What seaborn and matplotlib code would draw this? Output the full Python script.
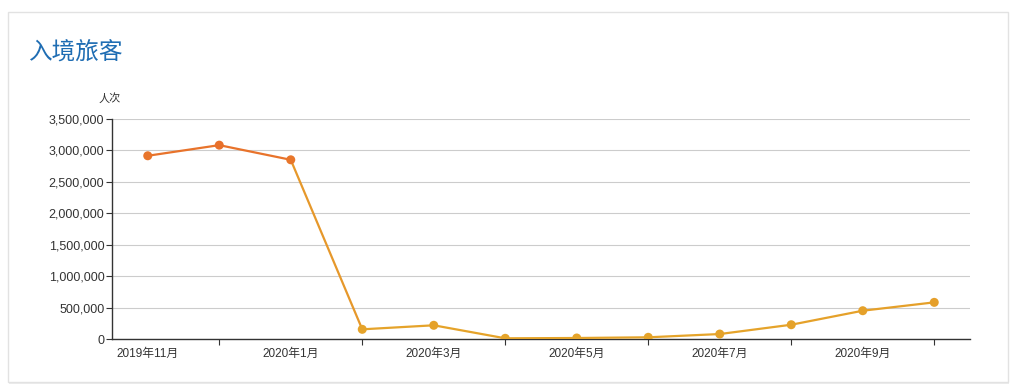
import matplotlib
matplotlib.use('Agg')
import matplotlib.pyplot as plt
import seaborn as sns
import numpy as np
import pandas as pd
from matplotlib.colors import LinearSegmentedColormap
from matplotlib.patches import FancyBboxPatch
from matplotlib.ticker import FuncFormatter, FixedLocator

# ---- data ----
months = ['2019年11月', '2019年12月', '2020年1月', '2020年2月', '2020年3月', '2020年4月',
          '2020年5月', '2020年6月', '2020年7月', '2020年8月', '2020年9月', '2020年10月']
visitors = [2915000, 3084000, 2851000, 154000, 218000, 11000,
            16000, 27000, 79000, 227000, 450000, 583000]
title_text = '入境旅客'
y_unit = '人次'
y_ticks = [0, 500000, 1000000, 1500000, 2000000, 2500000, 3000000, 3500000]

sns.set_theme(style='white')
plt.rcParams['font.family'] = ['Liberation Sans', 'Noto Sans CJK SC', 'DejaVu Sans']

W, H = 1016, 392
fig = plt.figure(figsize=(W / 100, H / 100), dpi=100)
fig.patch.set_facecolor('white')

# card background
shadow = FancyBboxPatch((9 / W, 1 - 384 / H), 1000 / W, 371 / H,
                        boxstyle='square,pad=0', transform=fig.transFigure,
                        facecolor='#ececec', edgecolor='none', zorder=-20)
card = FancyBboxPatch((8 / W, 1 - 382 / H), 1000 / W, 370 / H,
                      boxstyle='square,pad=0', transform=fig.transFigure,
                      facecolor='white', edgecolor='#e2e2e2', linewidth=1, zorder=-10)
fig.add_artist(shadow)
fig.add_artist(card)

ax = fig.add_axes([112 / W, 1 - 339 / H, 858 / W, 220 / H])
ax.set_facecolor('none')
ax.set_zorder(5)

df = pd.DataFrame({'idx': np.arange(len(months)), 'month': months, 'visitors': visitors})

cmap = LinearSegmentedColormap.from_list('vm', ['#e5a42a', '#e6982b', '#e8702b'])
vmax = 3100000

def col(v):
    return cmap(min(max(v / vmax, 0), 1))

for i in range(len(df) - 1):
    seg = df.iloc[i:i + 2]
    c = col(seg['visitors'].mean())
    sns.lineplot(data=seg, x='idx', y='visitors', color=c, linewidth=1.6, ax=ax, zorder=3)

sns.scatterplot(data=df, x='idx', y='visitors', hue='visitors', palette=cmap,
                hue_norm=(0, vmax), s=42, edgecolor='none', legend=False, ax=ax, zorder=4)

ax.set_xlim(-0.5, len(months) - 0.5)
ax.set_ylim(0, 3500000)
ax.yaxis.set_major_locator(FixedLocator(y_ticks))
ax.yaxis.set_major_formatter(FuncFormatter(lambda v, p: f'{int(v):,}'))
ax.grid(axis='y', color='#cccccc', linewidth=0.8)
ax.set_axisbelow(True)

label_idx = list(range(0, len(months), 2))
ax.set_xticks(label_idx)
ax.set_xticklabels([months[i] for i in label_idx])
ax.set_xticks(list(range(1, len(months), 2)), minor=True)
ax.tick_params(axis='x', which='major', length=0, pad=6.5, labelsize=8.5, labelcolor='#333333')
ax.tick_params(axis='x', which='minor', length=4, width=0.8, color='#333333', direction='out',
               bottom=True)
ax.tick_params(axis='y', which='major', length=4, width=0.8, color='#333333', direction='out',
               labelsize=9, labelcolor='#333333', pad=1.5, left=True)
ax.set_xlabel('')
ax.set_ylabel('')

for s in ['top', 'right']:
    ax.spines[s].set_visible(False)
for s in ['left', 'bottom']:
    ax.spines[s].set_visible(True)
    ax.spines[s].set_color('#333333')
    ax.spines[s].set_linewidth(1)

fig.text(28 / W, 1 - 53 / H, title_text, fontsize=17, color='#1f6db3', va='center', ha='left',
         family=['Noto Sans CJK SC', 'DejaVu Sans'])
fig.text(110 / W, 1 - 98 / H, y_unit, fontsize=8, color='#333333', va='center', ha='center',
         family=['Noto Sans CJK SC', 'DejaVu Sans'])

fig.savefig('out.png', dpi=100)
